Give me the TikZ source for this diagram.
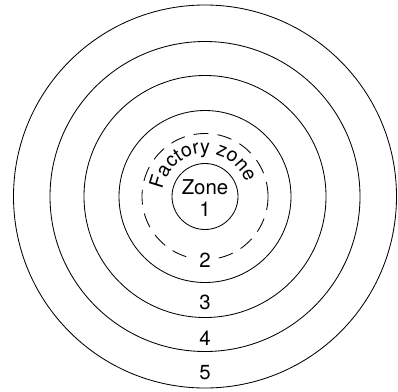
\documentclass[tikz,border=0pt]{standalone}
\usepackage{fontspec}
\setmainfont{TeX Gyre Heros}
\usetikzlibrary{decorations.text}
\newcommand{\zonefont}{\fontsize{14.5}{16}\selectfont}
\newcommand{\arcfont}{\fontsize{14}{16}\selectfont}

\begin{document}
\begin{tikzpicture}[x=.025cm,y=.025cm,line width=.6pt,font=\zonefont,
  lbl/.style={inner sep=1pt}]
\useasboundingbox (0,0) rectangle (398,391);
\coordinate (c) at (205,194.5);
\foreach \r in {33,86,121,155,191.5}{\draw (c) circle (\r);}
\draw[dash pattern=on 10.5pt off 6.5pt] (c) circle (63);
% curved label of the dashed ring
\path[decorate,decoration={text along path,text={|\arcfont|Factory zone},text align=center}]
  (c) ++(174:43) arc (174:16:43);
\node[lbl] (zone) at (205,204) {Zone};
\node[lbl] (one) at (205,182) {1};
\node[lbl,fill=white,inner xsep=5pt] (two) at (205,131) {2};
\node[lbl] (three) at (205,89) {3};
\node[lbl] (four) at (205,53) {4};
\node[lbl] (five) at (205,18) {5};
\end{tikzpicture}
\end{document}
